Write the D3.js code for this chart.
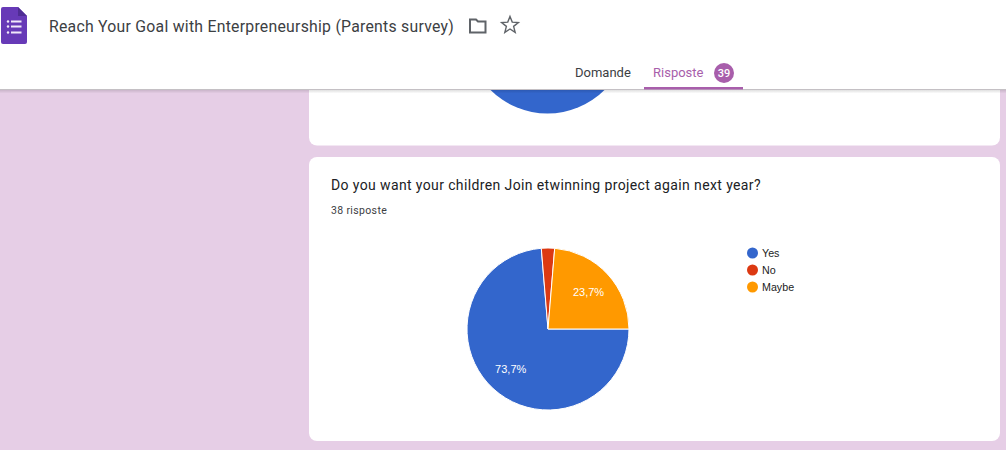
<!DOCTYPE html>
<html>
<head>
<meta charset="utf-8">
<script src="https://cdn.jsdelivr.net/npm/d3@7"></script>
<style>
  html, body { margin: 0; padding: 0; background: #e6cee6; overflow: hidden; }
  text { font-family: Roboto, sans-serif; }
  .legend text, .slice-label { font-family: "Liberation Sans", Arial, sans-serif; }
</style>
</head>
<body>
<div id="chart"></div>
<script>
// Data
var categories = ["Yes", "No", "Maybe"];
var answers = [28, 1, 9];
var sliceLabels = ["73,7%", "", "23,7%"];
var colors = ["#3366cc", "#dc3912", "#ff9900"];

// Only the bottom of the previous question's pie is visible
var previousAnswers = [100];

var formTitle = "Reach Your Goal with Enterpreneurship (Parents survey)";
var question = "Do you want your children Join etwinning project again next year?";
var responses = "38 risposte";
var tabs = ["Domande", "Risposte"];
var responseCount = "39";


var width = 1006,
    height = 450,
    radius = 81;

var svg = d3.select("#chart").append("svg")
    .attr("width", width)
    .attr("height", height)
    .style("display", "block");

var defs = svg.append("defs");
var shadow = defs.append("linearGradient")
    .attr("id", "header-shadow")
    .attr("x1", 0).attr("y1", 0).attr("x2", 0).attr("y2", 1);
shadow.append("stop").attr("offset", 0).attr("stop-color", "#000").attr("stop-opacity", 0.14);
shadow.append("stop").attr("offset", 1).attr("stop-color", "#000").attr("stop-opacity", 0);

svg.append("rect")
    .attr("width", width)
    .attr("height", height)
    .attr("fill", "#e6cee6");


// Cards
svg.append("rect")
    .attr("x", 309).attr("y", 40)
    .attr("width", 691).attr("height", 105.5)
    .attr("rx", 8)
    .attr("fill", "#fff");

svg.append("rect")
    .attr("x", 309).attr("y", 157)
    .attr("width", 691).attr("height", 284)
    .attr("rx", 8)
    .attr("fill", "#fff");


// Pie setup: first slice starts at 3 o'clock and runs clockwise
var pie = d3.pie()
    .sort(null)
    .startAngle(Math.PI / 2)
    .endAngle(Math.PI / 2 + 2 * Math.PI);

var arc = d3.arc()
    .innerRadius(0)
    .outerRadius(radius);

var labelArc = d3.arc()
    .innerRadius(radius * 0.68)
    .outerRadius(radius * 0.68);


// Previous question's pie
svg.append("g")
    .attr("transform", "translate(547.5,32.5)")
    .selectAll("path")
    .data(pie(previousAnswers))
    .enter().append("path")
    .attr("d", arc)
    .attr("fill", colors[0]);


// Main pie
var pieGroup = svg.append("g")
    .attr("transform", "translate(548,329)");

pieGroup.selectAll("path")
    .data(pie(answers))
    .enter().append("path")
    .attr("d", arc)
    .attr("fill", function(d, i) { return colors[i]; })
    .attr("stroke", "#fff")
    .attr("stroke-width", 1);

pieGroup.selectAll("text")
    .data(pie(answers))
    .enter().append("text")
    .attr("class", "slice-label")
    .attr("transform", function(d) { return "translate(" + labelArc.centroid(d) + ")"; })
    .attr("text-anchor", "middle")
    .attr("dy", "0.35em")
    .attr("font-size", 11)
    .attr("fill", "#fff")
    .text(function(d, i) { return sliceLabels[i]; });


// Legend
var legend = svg.append("g")
    .attr("class", "legend")
    .attr("transform", "translate(752.5,253)")
    .selectAll("g")
    .data(categories)
    .enter().append("g")
    .attr("transform", function(d, i) { return "translate(0," + (i * 17) + ")"; });

legend.append("circle")
    .attr("r", 5.5)
    .attr("fill", function(d, i) { return colors[i]; });

legend.append("text")
    .attr("x", 9.5)
    .attr("dy", "0.35em")
    .attr("font-size", 10.7)
    .attr("fill", "#222")
    .text(function(d) { return d; });


// Question text
svg.append("text")
    .attr("x", 331).attr("y", 190)
    .attr("font-size", 14)
    .attr("letter-spacing", 0.38)
    .attr("fill", "#202124")
    .text(question);

svg.append("text")
    .attr("x", 331).attr("y", 214)
    .attr("font-size", 10.5)
    .attr("letter-spacing", 0.35)
    .attr("fill", "#3c4043")
    .text(responses);


// Header
svg.append("rect")
    .attr("x", 0).attr("y", 89.5)
    .attr("width", width).attr("height", 4)
    .attr("fill", "url(#header-shadow)");

svg.append("rect")
    .attr("width", width)
    .attr("height", 89.5)
    .attr("fill", "#fff");

svg.append("line")
    .attr("x1", 0).attr("x2", width)
    .attr("y1", 89.5).attr("y2", 89.5)
    .attr("stroke", "#c4c0c4");

// Forms icon
var icon = svg.append("g");
icon.append("path")
    .attr("d", "M3 7 H18 L27 16 V42 Q27 44 25 44 H3 Q1 44 1 42 V9 Q1 7 3 7 Z")
    .attr("fill", "#673ab7");
icon.append("path")
    .attr("d", "M18 7 L27 16 H18 Z")
    .attr("fill", "#4f2d94");
[21, 26, 32].forEach(function(y) {
    icon.append("circle").attr("cx", 8).attr("cy", y + 0.5).attr("r", 1.2).attr("fill", "#f1e9fa");
    icon.append("rect").attr("x", 11).attr("y", y - 0.5).attr("width", 10.5).attr("height", 2).attr("fill", "#f1e9fa");
});

svg.append("text")
    .attr("x", 49).attr("y", 32)
    .attr("font-size", 15.8)
    .attr("letter-spacing", 0.25)
    .attr("fill", "#3c4043")
    .text(formTitle);

// Folder icon
svg.append("path")
    .attr("d", "M470 19.5 H476 L478 21.5 H485.5 V32.5 H470 Z")
    .attr("fill", "none")
    .attr("stroke", "#5f6368")
    .attr("stroke-width", 2);

// Star icon
svg.append("path")
    .attr("d", d3.line().curve(d3.curveLinearClosed)(d3.range(10).map(function(i) {
        var r = i % 2 ? 3.8 : 8.8,
            a = i * Math.PI / 5;
        return [510 + r * Math.sin(a), 25.2 - r * Math.cos(a)];
    })))
    .attr("fill", "none")
    .attr("stroke", "#5f6368")
    .attr("stroke-width", 1.4);

// Tabs
svg.append("text")
    .attr("x", 575).attr("y", 77)
    .attr("font-size", 13)
    .attr("fill", "#3c4043")
    .text(tabs[0]);

svg.append("text")
    .attr("x", 653).attr("y", 77)
    .attr("font-size", 13)
    .attr("fill", "#a85eab")
    .text(tabs[1]);

svg.append("circle")
    .attr("cx", 724).attr("cy", 73)
    .attr("r", 10)
    .attr("fill", "#a85eab");

svg.append("text")
    .attr("x", 724).attr("y", 73)
    .attr("dy", "0.35em")
    .attr("text-anchor", "middle")
    .attr("font-size", 11)
    .attr("font-weight", 500)
    .attr("fill", "#fff")
    .text(responseCount);

svg.append("rect")
    .attr("x", 644).attr("y", 87)
    .attr("width", 99).attr("height", 2.5)
    .attr("fill", "#a85eab");
</script>
</body>
</html>
